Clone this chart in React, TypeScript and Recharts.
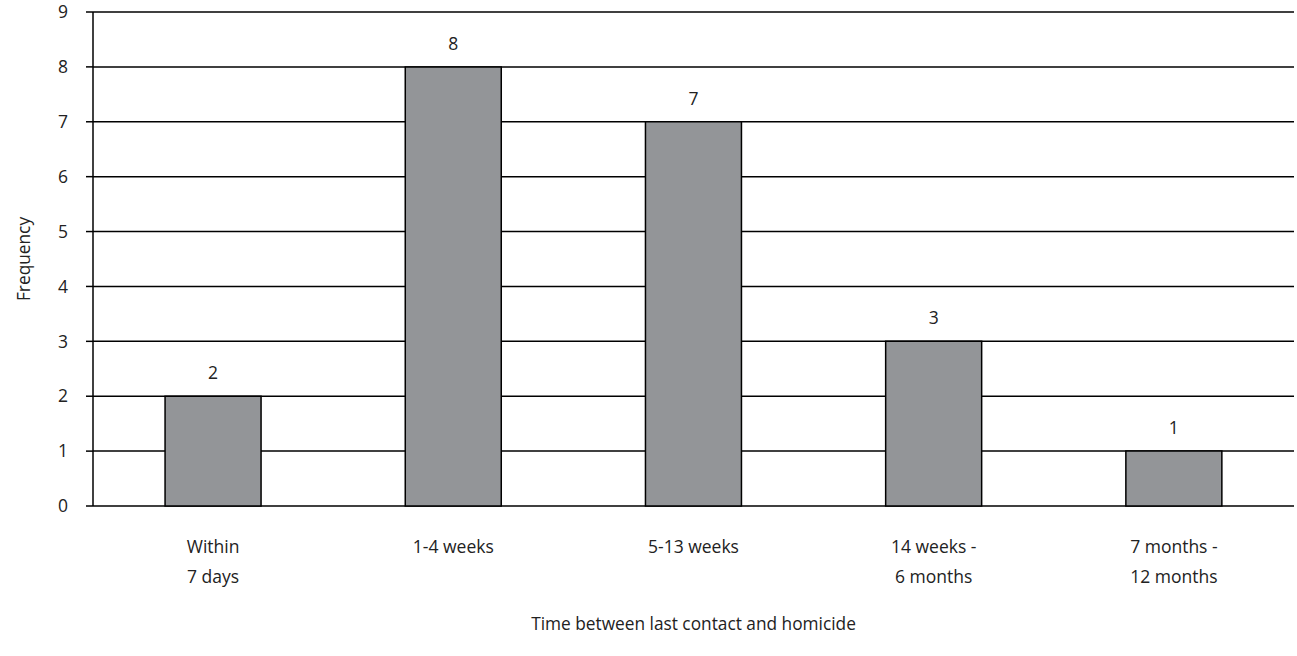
import React from 'react';
import { BarChart, Bar, XAxis, YAxis, CartesianGrid, LabelList, Label, ReferenceLine } from 'recharts';

const categories = ['Within\n7 days', '1-4 weeks', '5-13 weeks', '14 weeks -\n6 months', '7 months -\n12 months'];
const frequency = [2, 8, 7, 3, 1];
const yTicks = [0, 1, 2, 3, 4, 5, 6, 7, 8, 9];
const boundaryTicks = [0, 1, 2, 3, 4, 5];

const data = categories.map((name, i) => ({ name, value: frequency[i] }));

const FONT = '"Open Sans", sans-serif';

const CategoryTick = (props: any) => {
  const { x, y, payload } = props;
  const lines = String(payload.value).split('\n');
  return (
    <text x={x} y={y} textAnchor="middle" fontFamily={FONT} fontSize={17.5} fill="#222">
      {lines.map((l, i) => (
        <tspan key={i} x={x} dy={i === 0 ? 39 : 30}>{l}</tspan>
      ))}
    </text>
  );
};

export default function App() {
  return (
    <div style={{ position: 'fixed', left: 0, top: 0, width: 1297, height: 656, background: '#fff' }}>
      <BarChart
        width={1297}
        height={656}
        data={data}
        margin={{ top: 12, right: 3, bottom: 0, left: 0 }}
        barCategoryGap="30%"
      >
        <CartesianGrid xAxisId="cat" vertical={false} stroke="#000" strokeWidth={1.5} />
        <XAxis
          xAxisId="b"
          type="number"
          domain={[0, 5]}
          ticks={boundaryTicks}
          tickFormatter={() => ''}
          axisLine={false}
          tickLine={{ stroke: '#000', strokeWidth: 1.5 }}
          tickSize={6}
          height={0}
        />
        <XAxis
          xAxisId="cat"
          dataKey="name"
          axisLine={false}
          tickLine={false}
          interval={0}
          height={150}
          tick={<CategoryTick />}
        >
          <Label
            content={(p: any) => (
              <text x={p.viewBox.x + p.viewBox.width / 2} y={p.viewBox.y + 124} textAnchor="middle" fontFamily={FONT} fontSize={17.3} fill="#222">
                Time between last contact and homicide
              </text>
            )}
          />
        </XAxis>
        <YAxis
          domain={[0, 9]}
          ticks={yTicks}
          width={93}
          axisLine={{ stroke: '#000', strokeWidth: 1.5 }}
          tickLine={{ stroke: '#000', strokeWidth: 1.5 }}
          tickSize={7}
          tickMargin={18}
          tick={{ fontFamily: FONT, fontSize: 17.5, fill: '#222' }}
        >
          <Label
            content={(p: any) => {
              const cx = 25;
              const cy = p.viewBox.y + p.viewBox.height / 2;
              return (
                <text x={cx} y={cy} transform={`rotate(-90 ${cx} ${cy})`} textAnchor="middle" dominantBaseline="middle" fontFamily={FONT} fontSize={17.3} fill="#222">
                  Frequency
                </text>
              );
            }}
          />
        </YAxis>
        <ReferenceLine xAxisId="b" x={5} stroke="#000" strokeWidth={1.5} />
        <Bar xAxisId="cat" dataKey="value" fill="#939598" stroke="#000" strokeWidth={1.5} isAnimationActive={false}>
          <LabelList dataKey="value" position="top" offset={17} fontFamily={FONT} fontSize={17.5} fill="#222" />
        </Bar>
      </BarChart>
    </div>
  );
}
